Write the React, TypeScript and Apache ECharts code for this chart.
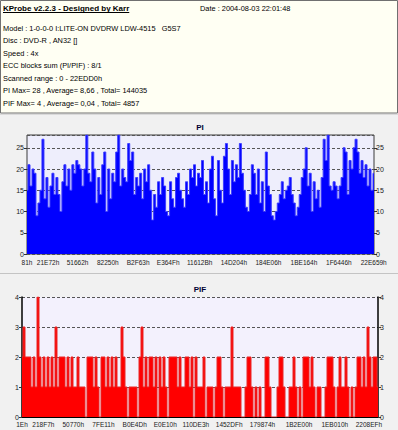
import React, { useEffect, useRef } from 'react';
import * as echarts from 'echarts';

const headerTitle = 'KProbe v2.2.3 - Designed by Karr';
const headerDate = 'Date : 2004-08-03 22:01:48';
const headerLines = [
  'Model : 1-0-0-0 I:LITE-ON DVDRW LDW-4515   G5S7',
  'Disc : DVD-R , AN32 []',
  'Speed : 4x',
  'ECC blocks sum (PI/PIF) : 8/1',
  'Scanned range : 0 - 22EDD0h',
  'PI Max= 28 , Average= 8,66 , Total= 144035',
  'PIF Max= 4 , Average= 0,04 , Total= 4857',
];

const scanEndHex = '22EDD0';

const piTickLabels = ['81h', '21E72h', '51662h', '82250h', 'B2F63h', 'E364Fh', '11612Bh', '14D204h', '184E06h', '1BE164h', '1F6446h', '22E659h'];
const pifTickLabels = ['1Eh', '218F7h', '50770h', '7FE11h', 'B0E4Dh', 'E0E10h', '110DE3h', '1452DFh', '179874h', '1B2E00h', '1EB010h', '2208EFh'];

const piValues = [
  15, 21, 16, 20, 19,
  9, 12, 15, 27, 13,
  18, 11, 16, 19, 14,
  18, 14, 10, 17, 21,
  16, 20, 15, 21, 19,
  22, 21, 20, 16, 20,
  28, 19, 17, 24, 20,
  12, 18, 14, 21, 24,
  10, 20, 13, 19, 17,
  24, 28, 16, 20, 18,
  17, 26, 22, 24, 14,
  18, 16, 19, 13, 20,
  17, 21, 15, 8, 14,
  11, 17, 14, 18, 16,
  10, 9, 17, 13, 11,
  18, 19, 15, 13, 11,
  17, 14, 20, 18, 21, 16, 19,
  18, 22, 14, 17, 12,
  20, 23, 13, 9, 22,
  15, 12, 23, 26, 20,
  14, 22, 17, 21, 18,
  26, 19, 15, 11, 10,
  14, 21, 19, 14, 20,
  12, 17, 10, 24, 16,
  14, 9, 8, 10, 12,
  14, 17, 13, 15, 16,
  18, 14, 12, 9, 11,
  14, 18, 20, 25, 16,
  19, 10, 17, 13, 15,
  11, 18, 27, 22, 28,
  16, 15, 17, 16, 13,
  16, 18, 25, 24, 14,
  22, 20, 25, 27, 24,
  19, 22, 18, 21, 16,
  20, 15, 19,
];

const pifValues = [
  2, 3, 2, 2, 2,
  1, 2, 1, 4, 2,
  1, 2, 1, 2, 1,
  2, 1, 3, 1, 2,
  2, 2, 1, 2, 1,
  2, 1, 1, 2, 1,
  1, 1, 0, 2, 2,
  2, 1, 2, 1, 0,
  2, 2, 1, 2, 1,
  2, 1, 2, 1, 1,
  3, 2, 1, 0, 1,
  1, 1, 1, 0, 2,
  3, 1, 2, 1, 2,
  2, 1, 2, 0, 2,
  1, 2, 1, 0, 2,
  2, 2, 2, 1, 2,
  1, 1, 2, 2, 1,
  2, 0, 2, 1,
  1, 1, 2, 0, 1,
  1, 1, 0, 1, 2,
  2, 1, 0, 1, 1,
  1, 3, 1, 1, 1,
  1, 0, 0, 1, 2,
  2, 1, 0, 1, 0,
  1, 0, 0, 2, 2,
  1, 0, 0, 0, 1,
  2, 2, 1, 0, 0,
  1, 1, 2, 1, 0,
  1, 0, 2, 2, 2,
  1, 2, 1, 0, 1,
  1, 0, 0, 1, 2,
  2, 2, 1, 0, 1,
  2, 1, 1, 2, 1,
  0, 1, 0, 1, 2,
  2, 1, 2, 1, 3,
  2, 1, 2, 2, 1,
];

const FONT = 'Liberation Sans';

export default function App() {
  const ref = useRef<HTMLDivElement>(null);
  useEffect(() => {
    if (!ref.current) return;
    const chart = echarts.init(ref.current, undefined, { renderer: 'svg' });
    const scanEnd = parseInt(scanEndHex, 16);
    const piTickValues = piTickLabels.map((s) => parseInt(s.replace('h', ''), 16));
    const pifTickValues = pifTickLabels.map((s) => parseInt(s.replace('h', ''), 16));
    const hexFmt = (v: number) => Math.round(v).toString(16).toUpperCase() + 'h';

    let titleW = 130;
    try {
      const ctx = document.createElement('canvas').getContext('2d');
      if (ctx) {
        ctx.font = `bold 8px "${FONT}"`;
        titleW = ctx.measureText(headerTitle).width;
      }
    } catch (e) {}

    const textEl = (text: string, x: number, y: number, size: number, weight = 'normal', color = '#000', align = 'left') => ({
      type: 'text',
      x,
      y,
      style: {
        text,
        fill: color,
        fontSize: size,
        fontFamily: FONT,
        fontWeight: weight,
        align,
        verticalAlign: 'middle',
      },
      z: 10,
    });

    const graphic: any[] = [
      { type: 'rect', shape: { x: 0.5, y: 0.5, width: 397, height: 112.5 }, style: { fill: '#FFFFF3', stroke: '#707070', lineWidth: 1 }, z: 1 },
      { type: 'line', shape: { x1: 0, y1: 273.5, x2: 398, y2: 273.5 }, style: { stroke: '#C4C4C4', lineWidth: 1 }, z: 1 },
      { type: 'line', shape: { x1: 0, y1: 114.5, x2: 398, y2: 114.5 }, style: { stroke: '#DADADA', lineWidth: 1 }, z: 1 },
      textEl(headerTitle, 3, 8, 8, 'bold'),
      { type: 'line', shape: { x1: 3, y1: 12.5, x2: 3 + titleW, y2: 12.5 }, style: { stroke: '#000', lineWidth: 1 }, z: 10 },
      textEl(headerDate, 200, 8, 7.4),
      ...headerLines.map((t, i) => textEl(t, 3, 28.3 + i * 12.5, 7.4)),
      textEl('PI', 200, 127, 8, 'bold', '#000033', 'center'),
      textEl('PIF', 200, 289, 8, 'bold', '#000033', 'center'),
    ];

    const yLabel = { fontSize: 7, fontFamily: FONT, color: '#1a1a1a' };
    const xLabel = { fontSize: 6.5, fontFamily: FONT, color: '#1a1a1a' };

    chart.setOption({
      animation: false,
      backgroundColor: '#F1F1F1',
      textStyle: { fontFamily: FONT },
      graphic,
      grid: [
        { left: 27, top: 135, width: 347, height: 119, show: true, backgroundColor: '#EEEEFC', borderColor: '#3A3A3A', borderWidth: 1 },
        { left: 22, top: 297, width: 356, height: 120, show: true, backgroundColor: '#F3F1FD', borderWidth: 0 },
      ],
      xAxis: [
        { type: 'category', gridIndex: 0, position: 'top', boundaryGap: false, data: piValues.map((_, i) => i), show: false },
        {
          type: 'value', gridIndex: 0, position: 'bottom', min: 0, max: scanEnd,
          axisLine: { show: false }, axisTick: { show: false }, splitLine: { show: false },
          axisLabel: { ...xLabel, customValues: piTickValues, formatter: hexFmt, margin: 5 },
        },
        { type: 'category', gridIndex: 1, position: 'top', boundaryGap: false, data: pifValues.map((_, i) => i), show: false },
        {
          type: 'value', gridIndex: 1, position: 'bottom', min: 0, max: scanEnd,
          axisLine: { show: true, lineStyle: { color: '#000', width: 1 } }, axisTick: { show: false }, splitLine: { show: false },
          axisLabel: { ...xLabel, customValues: pifTickValues, formatter: hexFmt, margin: 4 },
        },
      ],
      yAxis: [
        {
          type: 'value', gridIndex: 0, position: 'left', min: 0, max: 28, interval: 5,
          axisLine: { show: false }, axisTick: { show: true, length: 3, lineStyle: { color: '#333' } },
          axisLabel: { ...yLabel, margin: 3, showMaxLabel: false },
          splitLine: { show: true, lineStyle: { color: '#555', type: [3, 2], width: 1 } },
        },
        {
          type: 'value', gridIndex: 0, position: 'right', min: 0, max: 28, interval: 5,
          axisLine: { show: false }, axisTick: { show: true, length: 3, lineStyle: { color: '#333' } },
          axisLabel: { ...yLabel, margin: 2, showMaxLabel: false },
          splitLine: { show: false },
        },
        {
          type: 'value', gridIndex: 1, position: 'left', min: 0, max: 4, interval: 1,
          axisLine: { show: true, lineStyle: { color: '#000', width: 1.5 } }, axisTick: { show: true, length: 3, lineStyle: { color: '#333' } },
          axisLabel: { ...yLabel, margin: 3 },
          splitLine: { show: true, lineStyle: { color: '#555', type: [3, 2], width: 1 } },
        },
        {
          type: 'value', gridIndex: 1, position: 'right', min: 0, max: 4, interval: 1,
          axisLine: { show: true, lineStyle: { color: '#000', width: 1.5 } }, axisTick: { show: true, length: 3, lineStyle: { color: '#333' } },
          axisLabel: { ...yLabel, margin: 2 },
          splitLine: { show: false },
        },
      ],
      series: [
        {
          type: 'line', xAxisIndex: 0, yAxisIndex: 0, data: piValues, step: 'middle',
          symbol: 'none', lineStyle: { color: '#3C3CFF', width: 1 },
          areaStyle: { color: '#0000FF', opacity: 1 },
        },
        {
          type: 'line', xAxisIndex: 2, yAxisIndex: 2, data: pifValues, step: 'middle',
          symbol: 'none', lineStyle: { color: '#E82828', width: 1 },
          areaStyle: { color: '#FF0000', opacity: 1 },
        },
      ],
    });
    return () => chart.dispose();
  }, []);
  return <div ref={ref} style={{ position: 'absolute', left: 0, top: 0, width: 398, height: 430 }} />;
}
